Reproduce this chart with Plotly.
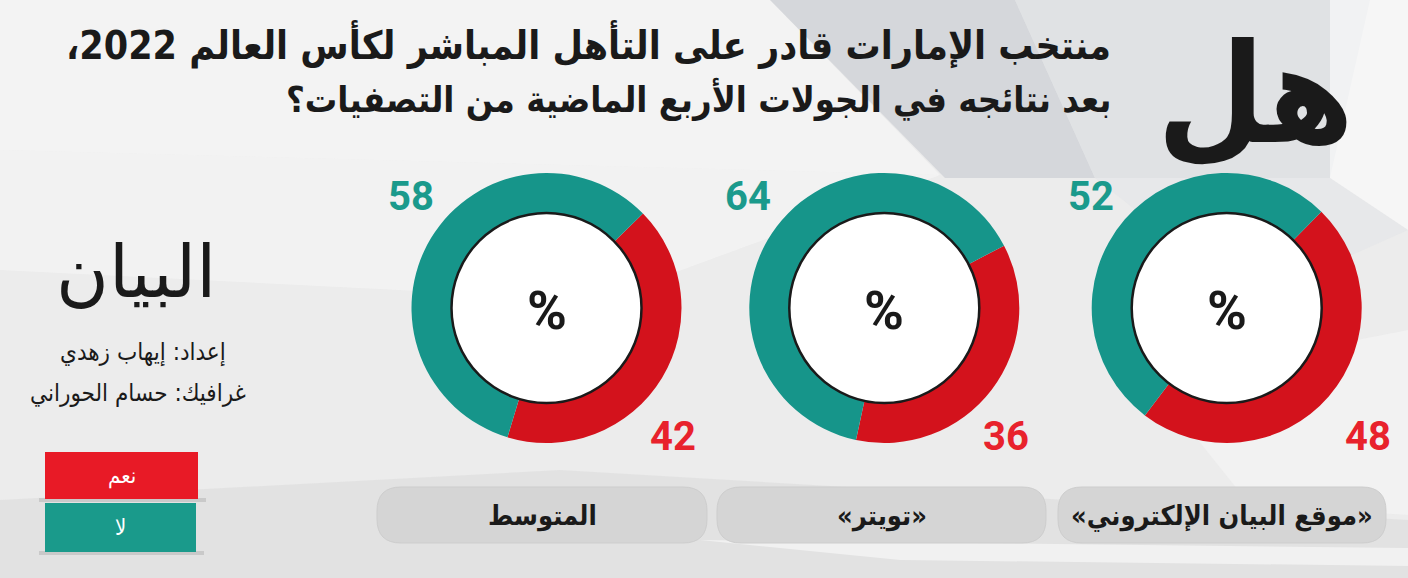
import plotly.graph_objects as go

# ---------------- data ----------------
categories = ["المتوسط", "«تويتر»", "«موقع البيان الإلكتروني»"]
yes_values = [42, 36, 48]   # نعم
no_values = [58, 64, 52]    # لا
answer_labels = ["نعم", "لا"]

title_word = "هل"
title_line1 = "منتخب الإمارات قادر على التأهل المباشر لكأس العالم 2022،"
title_line2 = "بعد نتائجه في الجولات الأربع الماضية من التصفيات؟"
logo_text = "البيان"
credit1 = "إعداد: إيهاب زهدي"
credit2 = "غرافيك: حسام الحوراني"

# ---------------- style / layout ----------------
W, H = 1408, 578
RED = "#d3121c"
TEAL = "#16958a"
RED_TXT = "#e8222c"
TEAL_TXT = "#1b9a8c"
AR_FONT = "DejaVu Sans Condensed, DejaVu Sans, sans-serif"
NUM_FONT = "Roboto, Arial, sans-serif"
RLM = "\u200f"

centers_x = [546.5, 884.3, 1226.7]
center_y = 308
R_OUT = 135
R_IN = 95
rotations = [45.6, 62.5, 44.5]
red_dx = [126, 122, 141]
pill_x = [(377, 707), (717, 1046), (1058, 1386)]
pill_y = (487, 543)


def px(x):
    return x / W


def py(y):
    return 1 - y / H


fig = go.Figure()
shapes = []
annotations = []


def note(x, y, text, size, color="#1a1a1a", family=AR_FONT, xanchor="center",
         yanchor="middle"):
    annotations.append(dict(x=px(x), y=py(y), xref="paper", yref="paper",
                            xanchor=xanchor, yanchor=yanchor, text=text,
                            showarrow=False,
                            font=dict(family=family, size=size, color=color)))


# ---- background facets ----
def poly(points, color, opacity):
    d = "M " + " L ".join(f"{px(x):.5f},{py(y):.5f}" for x, y in points) + " Z"
    shapes.append(dict(type="path", xref="paper", yref="paper", path=d,
                       fillcolor=color, opacity=opacity, line=dict(width=0),
                       layer="below"))


poly([(0, 0), (770, 0), (940, 175), (0, 150)], "#ffffff", 0.40)
poly([(0, 150), (940, 175), (600, 300), (0, 270)], "#f8f8f8", 0.55)
poly([(770, 0), (1015, 0), (1095, 178), (945, 178)], "#b3bac3", 0.40)
poly([(1015, 0), (1370, 0), (1330, 178), (1095, 178)], "#d3d6db", 0.45)
poly([(1330, 0), (1408, 0), (1408, 230), (1330, 178)], "#ffffff", 0.55)
poly([(1095, 178), (1330, 178), (1408, 230), (1250, 300)], "#e2e4e7", 0.5)
poly([(0, 500), (560, 470), (1408, 520), (1408, 578), (0, 578)], "#d7d7d7", 0.45)
poly([(700, 540), (1408, 548), (1408, 566), (900, 560)], "#ffffff", 0.5)
poly([(1150, 380), (1408, 330), (1408, 515), (1250, 505)], "#f8f8f8", 0.5)

# ---- donuts ----
for i, cat in enumerate(categories):
    cx = centers_x[i]
    fig.add_trace(go.Pie(
        labels=answer_labels,
        values=[yes_values[i], no_values[i]],
        marker=dict(colors=[RED, TEAL], line=dict(width=0)),
        hole=R_IN / R_OUT,
        sort=False,
        direction="clockwise",
        rotation=rotations[i],
        textinfo="none",
        name=cat,
        domain=dict(x=[px(cx - R_OUT), px(cx + R_OUT)],
                    y=[py(center_y + R_OUT), py(center_y - R_OUT)]),
        showlegend=False,
    ))
    # white inner disc with dark outline
    shapes.append(dict(type="circle", xref="paper", yref="paper",
                       x0=px(cx - R_IN), x1=px(cx + R_IN),
                       y0=py(center_y + R_IN), y1=py(center_y - R_IN),
                       fillcolor="white", line=dict(color="#1a1a1a", width=2.5),
                       layer="above"))
    note(cx, center_y + 2, "<b>%</b>", 54, family=NUM_FONT)
    # values
    note(cx - 136, 196, f"<b>{no_values[i]}</b>", 40, TEAL_TXT, NUM_FONT)
    note(cx + red_dx[i], 436, f"<b>{yes_values[i]}</b>", 40, RED_TXT, NUM_FONT)
    # category pill
    x0, x1 = pill_x[i]
    y0, y1 = pill_y
    r = 24
    d = (f"M {px(x0 + r)},{py(y0)} L {px(x1 - r)},{py(y0)} "
         f"Q {px(x1)},{py(y0)} {px(x1)},{py(y0 + r)} L {px(x1)},{py(y1 - r)} "
         f"Q {px(x1)},{py(y1)} {px(x1 - r)},{py(y1)} L {px(x0 + r)},{py(y1)} "
         f"Q {px(x0)},{py(y1)} {px(x0)},{py(y1 - r)} L {px(x0)},{py(y0 + r)} "
         f"Q {px(x0)},{py(y0)} {px(x0 + r)},{py(y0)} Z")
    shapes.append(dict(type="path", xref="paper", yref="paper", path=d,
                       fillcolor="#d5d5d5", line=dict(color="#cdcdcd", width=1),
                       layer="below"))
    note((x0 + x1) / 2, (y0 + y1) / 2 + 1, f"<b>{RLM}{cat}{RLM}</b>", 27)

# ---- title ----
note(1356, 95, f"<b>{title_word}</b>", 138, xanchor="right")
note(1113, 45, f"<b>{RLM}{title_line1}{RLM}</b>", 39, xanchor="right")
note(1113, 99, f"<b>{RLM}{title_line2}{RLM}</b>", 36, xanchor="right")

# ---- logo and credits ----
note(136, 272, logo_text, 72, family="DejaVu Sans, sans-serif")
note(228, 352, credit1, 24, xanchor="right")
note(248, 393, credit2, 24, xanchor="right")

# ---- legend boxes ----
legend_colors = ["#e81a26", "#1a9a8b"]
legend_boxes = [(45, 198, 452, 499), (45, 196, 503, 552)]
for lab, col, (x0, x1, y0, y1) in zip(answer_labels, legend_colors, legend_boxes):
    shapes.append(dict(type="rect", xref="paper", yref="paper",
                       x0=px(x0 - 6), x1=px(x1 + 8), y0=py(y1 + 3), y1=py(y1 - 1),
                       fillcolor="#9a9a9a", opacity=0.35, line=dict(width=0),
                       layer="below"))
    shapes.append(dict(type="rect", xref="paper", yref="paper",
                       x0=px(x0), x1=px(x1), y0=py(y1), y1=py(y0),
                       fillcolor=col, line=dict(width=0), layer="below"))
    note((x0 + x1) / 2, (y0 + y1) / 2, lab, 22, "white")

fig.update_layout(
    width=W, height=H,
    margin=dict(l=0, r=0, t=0, b=0),
    paper_bgcolor="#ececec",
    plot_bgcolor="rgba(0,0,0,0)",
    shapes=shapes,
    annotations=annotations,
    showlegend=False,
)

fig.write_html("out.html")
